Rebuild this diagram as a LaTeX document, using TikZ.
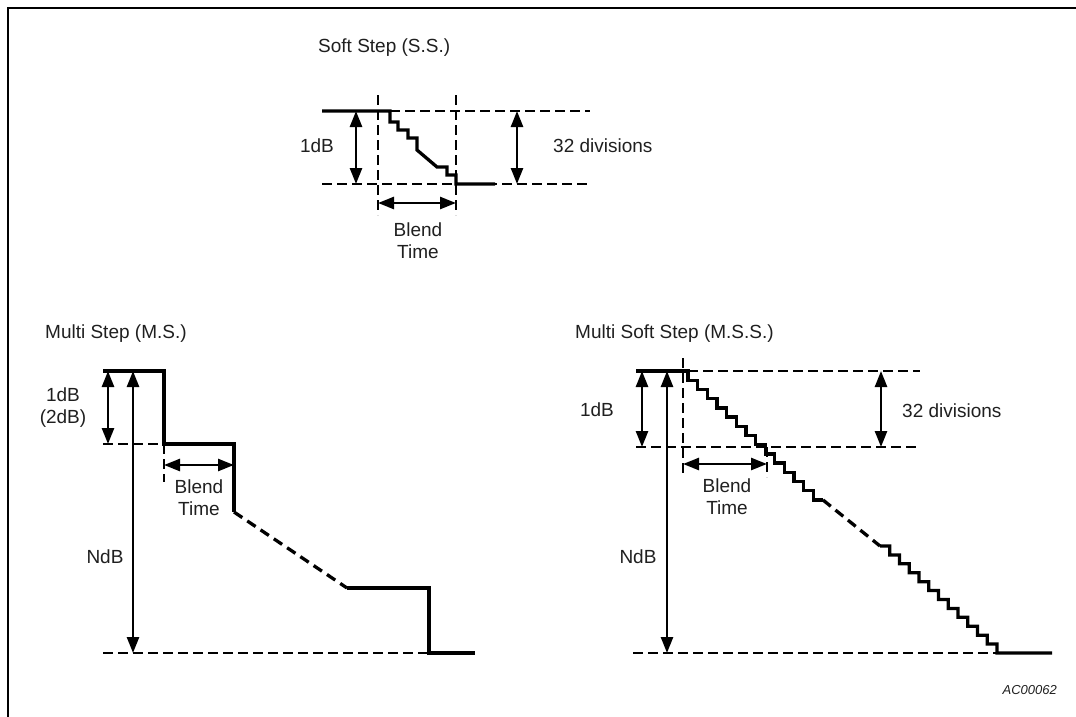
\documentclass[tikz,border=0pt]{standalone}
\usepackage{fontspec}
\setmainfont{Liberation Sans}
\usetikzlibrary{arrows.meta}
\begin{document}
\begin{tikzpicture}[x=1pt,y=-1pt,
  sig/.style={line width=3.3pt, line join=miter},
  sigdash/.style={line width=3.3pt, dash pattern=on 10pt off 6pt},
  guide/.style={line width=2.1pt, dash pattern=on 9.5pt off 5.5pt},
  dim/.style={line width=2.5pt, {Triangle[length=16pt,width=12pt]}-{Triangle[length=16pt,width=12pt]}},
  lbl/.style={font=\fontsize{19}{22}\selectfont, inner sep=0pt, align=center, text=black!88},
  frameline/.style={line width=2.4pt}]
\useasboundingbox (0,0) rectangle (1076,717);
% frame
\coordinate (fTR) at (1076,8);
\coordinate (fTL) at (8,8);
\coordinate (fBL) at (8,717);
\draw[frameline] (fTR) -- (fTL) -- (fBL);

% ---------------- Soft Step ----------------
\node[lbl, anchor=west] (ssTitle) at (318,48) {Soft Step (S.S.)};
\coordinate (ssA) at (322,111);
\coordinate (ssB) at (390,111);
\coordinate (ssE) at (590,111);
\coordinate (ssL) at (322,184);
\coordinate (ssR) at (590,184);
\coordinate (ssF) at (456,184);
\coordinate (ssG) at (495,184);
\coordinate (ssV1t) at (378,95);
\coordinate (ssV1b) at (378,215);
\coordinate (ssV2t) at (456,95);
\coordinate (ssV2b) at (456,215);
\draw[guide] (ssB) -- (ssE);
\draw[guide] (ssL) -- (ssR);
\draw[guide] (ssV1t) -- (ssV1b);
\draw[guide] (ssV2t) -- (ssV2b);
\draw[sig] (ssA) -- (ssB) -- (390,122) -- (398,122) -- (398,130) -- (408,130) -- (408,138)
  -- (417,138) -- (417,150) -- (437,167) -- (447,167) -- (447,175) -- (456,175) -- (ssF) -- (ssG);
\coordinate (ss1t) at (356,111);
\coordinate (ss1b) at (356,184);
\draw[dim] (ss1t) -- (ss1b);
\node[lbl] (ss1dB) at (317,146) {1dB};
\coordinate (ss32t) at (517,111);
\coordinate (ss32b) at (517,184);
\draw[dim] (ss32t) -- (ss32b);
\node[lbl, anchor=west] (ss32) at (553,146) {32 divisions};
\coordinate (ssBl) at (378,203);
\coordinate (ssBr) at (456,203);
\draw[dim] (ssBl) -- (ssBr);
\node[lbl] (ssBlend) at (418,241) {Blend\\Time};

% ---------------- Multi Step ----------------
\node[lbl, anchor=west] (msTitle) at (45,334) {Multi Step (M.S.)};
\coordinate (msA) at (103,371);
\coordinate (msB) at (164,371);
\coordinate (msC) at (164,444);
\coordinate (msD) at (234,444);
\coordinate (msE) at (234,512);
\coordinate (msF) at (347,588);
\coordinate (msG) at (429,588);
\coordinate (msH) at (429,653);
\coordinate (msI) at (475,653);
\coordinate (msL1) at (103,444);
\coordinate (msV) at (164,482);
\coordinate (msL2) at (103,653);
\draw[guide] (msL1) -- (msC);
\draw[guide] (msC) -- (msV);
\draw[guide] (msL2) -- (msH);
\draw[sig] (msA) -- (msB) -- (msC) -- (msD) -- (msE);
\draw[sigdash] (msE) -- (msF);
\draw[sig] (msF) -- (msG) -- (msH) -- (msI);
\coordinate (ms1t) at (108,371);
\coordinate (ms1b) at (108,444);
\draw[dim] (ms1t) -- (ms1b);
\coordinate (msNt) at (133,371);
\coordinate (msNb) at (133,653);
\draw[dim] (msNt) -- (msNb);
\coordinate (msBl) at (164,465);
\coordinate (msBr) at (234,465);
\draw[dim] (msBl) -- (msBr);
\node[lbl] (ms1dB) at (63,408) {1dB\\(2dB)};
\node[lbl] (msNdB) at (105,557) {NdB};
\node[lbl] (msBlend) at (199,498) {Blend\\Time};

% ---------------- Multi Soft Step ----------------
\node[lbl, anchor=west] (mssTitle) at (575,334) {Multi Soft Step (M.S.S.)};
\coordinate (mssA) at (636,371);
\coordinate (mssB) at (688,371);
\coordinate (mssE) at (920,371);
\coordinate (mssL) at (636,447);
\coordinate (mssR) at (920,447);
\coordinate (mssV1t) at (683,358);
\coordinate (mssV1b) at (683,477);
\coordinate (mssV2t) at (767,447);
\coordinate (mssV2b) at (767,477);
\coordinate (mssBotL) at (633,653);
\coordinate (mssBotR) at (997,653);
\coordinate (mssEnd) at (1052,653);
\coordinate (mssC) at (823,500);
\coordinate (mssD) at (880,546);
\draw[guide] (mssB) -- (mssE);
\draw[guide] (mssL) -- (mssR);
\draw[guide] (mssV1t) -- (mssV1b);
\draw[guide] (mssV2t) -- (mssV2b);
\draw[guide] (mssBotL) -- (mssBotR);
\draw[sig] (mssA) -- (mssB) \foreach \i in {1,...,14} { -- ++(0,9.214) -- ++(9.643,0) };
\draw[sigdash] (mssC) -- (mssD);
\draw[sig] (mssD) \foreach \i in {1,...,12} { -- ++(9.75,0) -- ++(0,8.917) } -- (mssEnd);
\coordinate (mss1t) at (642,371);
\coordinate (mss1b) at (642,447);
\draw[dim] (mss1t) -- (mss1b);
\coordinate (mssNt) at (667,371);
\coordinate (mssNb) at (667,653);
\draw[dim] (mssNt) -- (mssNb);
\coordinate (mss32t) at (881,371);
\coordinate (mss32b) at (881,447);
\draw[dim] (mss32t) -- (mss32b);
\coordinate (mssBl) at (683,464);
\coordinate (mssBr) at (767,464);
\draw[dim] (mssBl) -- (mssBr);
\node[lbl] (mss1dB) at (597,410) {1dB};
\node[lbl] (mssNdB) at (638,557) {NdB};
\node[lbl, anchor=west] (mss32) at (902,411) {32 divisions};
\node[lbl] (mssBlend) at (727,497) {Blend\\Time};

\node[font=\fontsize{13}{15}\selectfont\itshape, inner sep=0pt, anchor=east, text=black!88] (code) at (1057,690) {AC00062};
\end{tikzpicture}
\end{document}
